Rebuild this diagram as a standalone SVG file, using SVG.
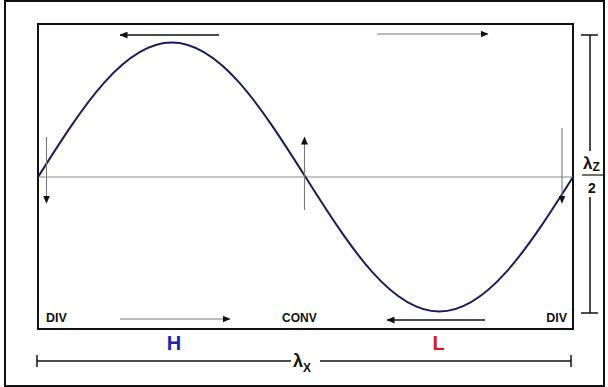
<svg xmlns="http://www.w3.org/2000/svg" width="608" height="387" viewBox="0 0 608 387">
<style>
.frame{fill:none;stroke:#111;stroke-width:2}
.axis{stroke:#8a8a8a;stroke-width:1;fill:none}
.arrB{stroke:#111;stroke-width:1.6;fill:none}
.arrG{stroke:#7a7a7a;stroke-width:1.1;fill:none}
.dim{stroke:#111;stroke-width:1.5;fill:none}
.lbl{font-family:"Liberation Sans",Arial,sans-serif;font-weight:bold;fill:#111}
</style>
<defs>
<marker id="ah" markerUnits="userSpaceOnUse" markerWidth="8" markerHeight="7" refX="7.5" refY="3.5" orient="auto">
<path d="M0,0 L8,3.5 L0,7 z" fill="#111"/>
</marker>
</defs>
<rect width="608" height="387" fill="#fff"/>
<rect class="frame" x="5" y="1" width="599" height="385"/>
<g id="box">
<rect class="frame" x="38" y="24" width="535" height="305"/>
<line class="axis" x1="38" y1="177" x2="573" y2="177"/>
</g>
<g id="wave">
<path d="M38,177 C60.29,141.79 82.58,106.79 104.875,81.89 C127.17,56.99 149.46,42.5 171.75,42.5 C194.04,42.5 216.33,56.99 238.625,81.89 C260.92,106.79 283.21,141.79 305.5,177 C327.79,212.21 350.08,247.21 372.375,272.11 C394.67,297.01 416.96,311.5 439.25,311.5 C461.54,311.5 483.83,297.01 506.125,272.11 C528.42,247.21 550.71,212.21 573,177" fill="none" stroke="#1c1c5c" stroke-width="2"/>
</g>
<g id="connectors">
<line class="arrB" x1="219" y1="35" x2="120" y2="35" marker-end="url(#ah)"/>
<line class="arrG" x1="377" y1="34" x2="488" y2="34" marker-end="url(#ah)"/>
<line class="arrG" x1="120" y1="319" x2="230" y2="319" marker-end="url(#ah)"/>
<line class="arrB" x1="485" y1="320" x2="387" y2="320" marker-end="url(#ah)"/>
<line class="arrG" x1="46.5" y1="137" x2="46.5" y2="203" marker-end="url(#ah)"/>
<line class="arrG" x1="304.5" y1="210" x2="304.5" y2="137" marker-end="url(#ah)"/>
<line class="arrG" x1="562" y1="128" x2="562" y2="203" marker-end="url(#ah)"/>
</g>
<g id="labels">
<text class="lbl" x="46" y="322" font-size="12.5">DIV</text>
<text class="lbl" x="282" y="322" font-size="12">CONV</text>
<text class="lbl" x="567" y="322" font-size="12.5" text-anchor="end">DIV</text>
<text class="lbl" x="174" y="350" font-size="20" text-anchor="middle" style="fill:#1a28a8">H</text>
<text class="lbl" x="438.5" y="350" font-size="20" text-anchor="middle" style="fill:#cc2020">L</text>
</g>
<g id="dim-x">
<line class="dim" x1="291" y1="361" x2="37" y2="361"/>
<line class="dim" x1="320" y1="361" x2="571" y2="361"/>
<line class="dim" x1="37" y1="355" x2="37" y2="367"/>
<line class="dim" x1="571" y1="355" x2="571" y2="367"/>
<text class="lbl" x="293" y="367" font-size="18">λ<tspan font-size="12" dy="5">X</tspan></text>
</g>
<g id="dim-z">
<line class="dim" x1="590" y1="35" x2="590" y2="151"/>
<line class="dim" x1="590" y1="197" x2="590" y2="313"/>
<line class="dim" x1="581" y1="35" x2="598" y2="35"/>
<line class="dim" x1="581" y1="313" x2="598" y2="313"/>
<text class="lbl" x="583" y="169" font-size="17">λ<tspan font-size="12" dy="2">Z</tspan></text>
<line stroke="#111" stroke-width="1.2" x1="582" y1="175" x2="605" y2="175"/>
<text class="lbl" x="592" y="193" font-size="14" text-anchor="middle">2</text>
</g>
</svg>
